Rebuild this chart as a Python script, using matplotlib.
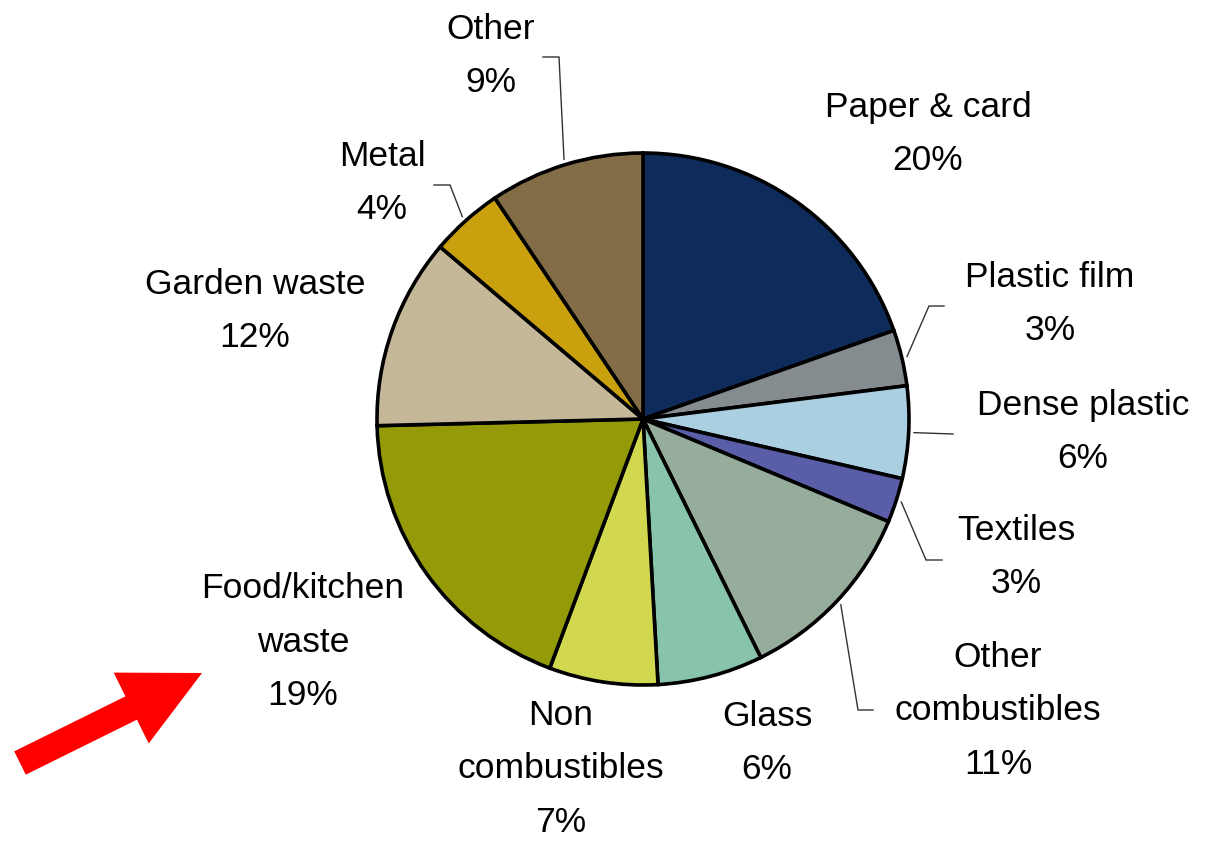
import numpy as np
import matplotlib.pyplot as plt
from matplotlib.patches import FancyArrow

plt.rcParams['font.family'] = ['Liberation Sans', 'DejaVu Sans']

# waste composition, clockwise from 12 o'clock
categories = ['Paper & card', 'Plastic film', 'Dense plastic', 'Textiles',
              'Other\ncombustibles', 'Glass', 'Non\ncombustibles',
              'Food/kitchen\nwaste', 'Garden waste', 'Metal', 'Other']
shares = [19.6, 3.4, 5.6, 2.7, 11.4, 6.4, 6.6, 18.9, 11.6, 4.4, 9.4]
colors = ['#0f2b5b', '#858c8f', '#a9cfe1', '#5a5ea8', '#97ad9c', '#87c4ab',
          '#d1d74f', '#949a08', '#c5b898', '#c9a10e', '#826d47']

W, H = 1211, 841
fig = plt.figure(figsize=(W / 100, H / 100), dpi=100)
ax = fig.add_axes([0, 0, 1, 1])


def py(y):
    # y measured from the top edge
    return H - y


cx, cy, r = 643, py(419), 266
wedges, _ = ax.pie(shares, colors=colors, startangle=90, counterclock=False,
                   center=(cx, cy), radius=r, frame=True,
                   wedgeprops=dict(edgecolor='black', linewidth=2.6))
ax.set_xlim(0, W)
ax.set_ylim(0, H)
ax.axis('off')

# label block centres
label_pos = {
    'Paper & card': (928, 134),
    'Plastic film': (1050, 304),
    'Dense plastic': (1083, 432),
    'Textiles': (1016, 557),
    'Other\ncombustibles': (998, 711),
    'Glass': (767, 743),
    'Non\ncombustibles': (561, 769),
    'Food/kitchen\nwaste': (303, 642),
    'Garden waste': (255, 311),
    'Metal': (382, 183),
    'Other': (491, 56),
}
for name, val in zip(categories, shares):
    x, y = label_pos[name]
    ax.text(x, py(y), f'{name}\n{round(val)}%', ha='center', va='center',
            fontsize=25.5, linespacing=1.78, color='black')

# leader lines: elbow and end point next to the label
leaders = {
    'Other': [(559, 57), (543, 57)],
    'Metal': [(450, 185), (434, 185)],
    'Plastic film': [(929, 306), (944, 306)],
    'Dense plastic': [(953, 434)],
    'Textiles': [(926, 560), (942, 560)],
    'Other\ncombustibles': [(858, 710), (873, 710)],
}
cum = np.cumsum([0] + shares)
for i, name in enumerate(categories):
    if name not in leaders:
        continue
    mid = (cum[i] + cum[i + 1]) / 2 / 100 * 2 * np.pi
    sx = cx + 1.02 * r * np.sin(mid)
    sy = cy + 1.02 * r * np.cos(mid)
    xs = [sx] + [p[0] for p in leaders[name]]
    ys = [sy] + [py(p[1]) for p in leaders[name]]
    ax.plot(xs, ys, color='#333333', lw=1.0, solid_joinstyle='miter')

# red pointer arrow
ax.add_patch(FancyArrow(20, py(763), 182, 90, width=26, head_width=79,
                        head_length=79, length_includes_head=True,
                        color='#ff0000', lw=0))

fig.savefig('out.png', dpi=100)
